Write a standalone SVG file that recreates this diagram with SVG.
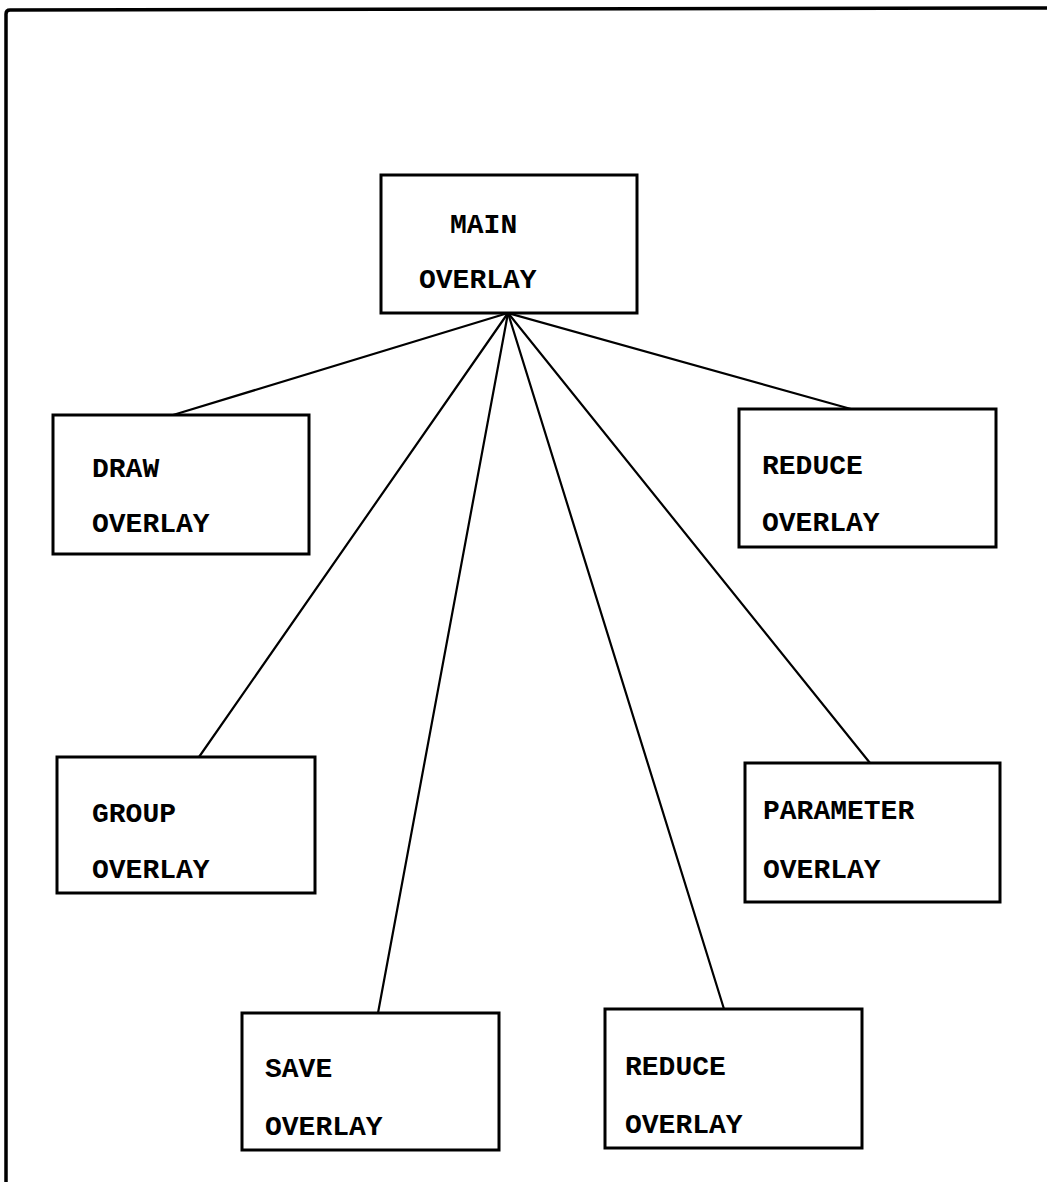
<svg xmlns="http://www.w3.org/2000/svg" width="1047" height="1192" viewBox="0 0 1047 1192">
<style>
.box{fill:#fff;stroke:#000;stroke-width:3}
.lbl{font-family:"Liberation Mono","Courier New",monospace;font-weight:bold;font-size:28px;fill:#000}
.conn line{stroke:#000;stroke-width:2.2;stroke-linecap:round}
</style>
<rect width="1047" height="1192" fill="#fff"/>
<path d="M6,1182 L6,14 Q6,10 10,10 L1047,8" fill="none" stroke="#000" stroke-width="3.5"/>
<g class="conn" id="connectors">
<line x1="508" y1="313" x2="173" y2="415"/>
<line x1="508" y1="313" x2="851" y2="409"/>
<line x1="508" y1="313" x2="199" y2="757"/>
<line x1="508" y1="313" x2="378" y2="1013"/>
<line x1="508" y1="313" x2="724" y2="1009"/>
<line x1="508" y1="313" x2="870" y2="763"/>
</g>
<g id="main"><rect class="box" x="381" y="175" width="256" height="138"/><text class="lbl" x="450" y="233">MAIN</text><text class="lbl" x="419" y="288">OVERLAY</text></g>
<g id="draw"><rect class="box" x="53" y="415" width="256" height="139"/><text class="lbl" x="92" y="477">DRAW</text><text class="lbl" x="92" y="532">OVERLAY</text></g>
<g id="reduce1"><rect class="box" x="739" y="409" width="257" height="138"/><text class="lbl" x="762" y="474">REDUCE</text><text class="lbl" x="762" y="531">OVERLAY</text></g>
<g id="group"><rect class="box" x="57" y="757" width="258" height="136"/><text class="lbl" x="92" y="822">GROUP</text><text class="lbl" x="92" y="878">OVERLAY</text></g>
<g id="parameter"><rect class="box" x="745" y="763" width="255" height="139"/><text class="lbl" x="763" y="819">PARAMETER</text><text class="lbl" x="763" y="878">OVERLAY</text></g>
<g id="save"><rect class="box" x="242" y="1013" width="257" height="137"/><text class="lbl" x="265" y="1077">SAVE</text><text class="lbl" x="265" y="1135">OVERLAY</text></g>
<g id="reduce2"><rect class="box" x="605" y="1009" width="257" height="139"/><text class="lbl" x="625" y="1075">REDUCE</text><text class="lbl" x="625" y="1133">OVERLAY</text></g>
</svg>
